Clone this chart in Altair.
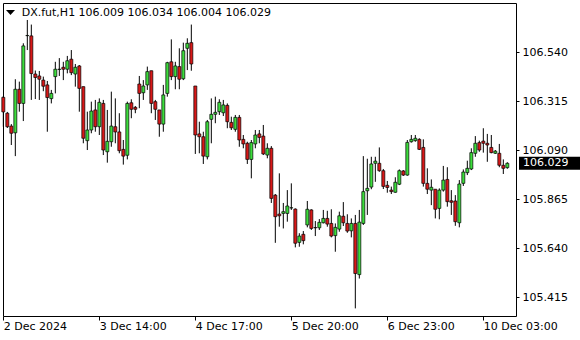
import altair as alt
import pandas as pd

symbol = "DX.fut,H1"
last_ohlc = [106.009, 106.034, 106.004, 106.029]

open_ = [
    106.332, 106.259, 106.200, 106.169, 106.369, 106.304, 106.615, 106.614, 106.439, 106.430,
    106.411, 106.389, 106.326, 106.427, 106.460, 106.470, 106.461, 106.507, 106.439, 106.476,
    106.381, 106.133, 106.182, 106.274, 106.197, 106.304, 106.082, 106.128, 106.197, 106.173,
    106.093, 106.066, 106.307, 106.286, 106.393, 106.353, 106.389, 106.454, 106.312, 106.274,
    106.209, 106.350, 106.495, 106.427, 106.473, 106.417, 106.557, 106.583, 106.384, 106.164,
    106.151, 106.059, 106.231, 106.254, 106.266, 106.261, 106.295, 106.217, 106.185, 106.240,
    106.139, 106.121, 106.047, 106.118, 106.164, 106.154, 106.067, 106.098, 105.883, 105.796,
    105.799, 105.799, 105.824, 105.819, 105.666, 105.703, 105.746, 105.815, 105.734, 105.733,
    105.756, 105.776, 105.753, 105.697, 105.727, 105.786, 105.753, 105.719, 105.753, 105.518,
    105.753, 105.903, 105.920, 106.029, 106.029, 105.995, 105.928, 105.906, 105.896, 105.933,
    105.994, 105.975, 106.128, 106.133, 106.139, 106.102, 105.937, 105.906, 105.910, 105.822,
    105.906, 105.955, 105.857, 105.856, 105.756, 105.937, 105.986, 106.003, 106.075, 106.124,
    106.131, 106.121, 106.102, 106.075, 106.075, 106.020, 106.009,
]
high = [
    106.338, 106.265, 106.209, 106.415, 106.404, 106.580, 106.687, 106.666, 106.455, 106.453,
    106.427, 106.407, 106.366, 106.495, 106.512, 106.495, 106.522, 106.549, 106.485, 106.480,
    106.381, 106.266, 106.312, 106.320, 106.327, 106.320, 106.274, 106.358, 106.327, 106.259,
    106.136, 106.312, 106.323, 106.292, 106.430, 106.411, 106.473, 106.454, 106.320, 106.274,
    106.389, 106.495, 106.598, 106.495, 106.557, 106.583, 106.603, 106.666, 106.384, 106.220,
    106.174, 106.228, 106.327, 106.335, 106.323, 106.320, 106.304, 106.243, 106.251, 106.251,
    106.159, 106.128, 106.136, 106.182, 106.182, 106.205, 106.121, 106.108, 105.888, 105.983,
    105.847, 105.906, 105.937, 105.822, 105.708, 105.718, 105.856, 105.818, 105.764, 105.773,
    105.815, 105.811, 105.818, 105.753, 105.807, 105.851, 105.795, 105.776, 105.792, 105.815,
    106.062, 106.050, 106.059, 106.059, 106.102, 106.003, 105.948, 105.922, 105.965, 106.001,
    105.998, 106.136, 106.159, 106.159, 106.144, 106.139, 106.006, 105.955, 105.910, 105.914,
    106.017, 106.011, 105.906, 105.883, 105.952, 106.001, 106.041, 106.098, 106.154, 106.133,
    106.190, 106.164, 106.159, 106.090, 106.118, 106.047, 106.034,
]
low = [
    106.197, 106.191, 106.113, 106.062, 106.266, 106.223, 106.549, 106.320, 106.324, 106.320,
    106.360, 106.174, 106.304, 106.350, 106.430, 106.411, 106.442, 106.434, 106.381, 106.266,
    106.121, 106.090, 106.167, 106.174, 106.159, 106.067, 106.032, 106.105, 106.121, 106.075,
    106.023, 106.047, 106.236, 106.259, 106.282, 106.320, 106.366, 106.259, 106.228, 106.151,
    106.174, 106.335, 106.411, 106.369, 106.369, 106.411, 106.457, 106.454, 106.072, 106.075,
    106.026, 106.047, 106.121, 106.213, 106.251, 106.246, 106.190, 106.182, 106.174, 106.105,
    106.098, 106.026, 105.960, 106.098, 106.121, 106.067, 106.052, 105.847, 105.664, 105.738,
    105.730, 105.761, 105.815, 105.643, 105.646, 105.657, 105.735, 105.723, 105.695, 105.723,
    105.753, 105.738, 105.689, 105.623, 105.715, 105.741, 105.710, 105.689, 105.363, 105.500,
    105.746, 105.792, 105.910, 105.944, 105.990, 105.911, 105.894, 105.888, 105.894, 105.929,
    105.971, 105.972, 106.124, 106.128, 106.090, 105.922, 105.888, 105.837, 105.776, 105.772,
    105.899, 105.830, 105.792, 105.742, 105.735, 105.925, 105.975, 105.998, 106.059, 106.082,
    106.078, 106.036, 106.075, 106.072, 106.011, 105.980, 106.004,
]
close = [
    106.265, 106.197, 106.167, 106.369, 106.304, 106.568, 106.616, 106.441, 106.423, 106.415,
    106.383, 106.331, 106.350, 106.461, 106.461, 106.461, 106.500, 106.445, 106.470, 106.373,
    106.144, 106.182, 106.269, 106.197, 106.309, 106.090, 106.130, 106.200, 106.173, 106.087,
    106.062, 106.304, 106.277, 106.277, 106.350, 106.384, 106.450, 106.304, 106.277, 106.209,
    106.343, 106.491, 106.427, 106.476, 106.415, 106.546, 106.580, 106.485, 106.159, 106.151,
    106.062, 106.220, 106.254, 106.263, 106.309, 106.297, 106.220, 106.192, 106.240, 106.136,
    106.118, 106.047, 106.124, 106.159, 106.148, 106.072, 106.098, 105.868, 105.784, 105.788,
    105.807, 105.833, 105.825, 105.662, 105.695, 105.674, 105.818, 105.730, 105.733, 105.758,
    105.776, 105.750, 105.695, 105.735, 105.788, 105.756, 105.718, 105.753, 105.523, 105.759,
    105.899, 105.914, 106.026, 106.039, 105.995, 105.923, 105.918, 105.899, 105.942, 105.995,
    105.975, 106.125, 106.139, 106.144, 106.093, 105.937, 105.910, 105.919, 105.818, 105.906,
    105.952, 105.853, 105.850, 105.761, 105.934, 105.989, 106.006, 106.078, 106.121, 106.090,
    106.121, 106.113, 106.078, 106.085, 106.020, 106.006, 106.029,
]

tick_bars = [0, 24, 48, 72, 96, 120]
tick_labels = ["2 Dec 2024", "3 Dec 14:00", "4 Dec 17:00", "5 Dec 20:00", "6 Dec 23:00", "10 Dec 03:00"]
price_ticks = [105.415, 105.640, 105.865, 106.090, 106.315, 106.540]

FONT = "DejaVu Sans"
BULL = "#3cdc3c"
BEAR = "#d81818"

df = pd.DataFrame({"bar": list(range(len(open_))), "open": open_, "high": high,
                   "low": low, "close": close})

label_expr = "".join(f"datum.value == {b} ? '{l}' : " for b, l in zip(tick_bars, tick_labels)) + "''"

xscale = alt.Scale(domain=[-0.08, 128.17], nice=False, zero=False, padding=0)
yscale = alt.Scale(domain=[105.328, 106.765], nice=False, zero=False, padding=0)
xaxis = alt.Axis(values=tick_bars, labelExpr=label_expr, title=None, grid=False, domain=False,
                 tickSize=4, tickColor="black", labelAlign="left", labelBaseline="top",
                 labelPadding=0, labelOverlap=False, labelFlush=False, labelBound=False,
                 labelFont=FONT, labelFontSize=11, labelColor="black")
yaxis = alt.Axis(values=price_ticks, format=".3f", orient="right", title=None, grid=False,
                 domain=False, tickSize=3, tickColor="black", labelPadding=3,
                 labelFont=FONT, labelFontSize=11, labelColor="black", labelOverlap=False,
                 labelBaseline="middle")

base = alt.Chart(df)
X = alt.X("bar:Q", scale=xscale, axis=xaxis)

wicks = base.mark_rule(color="black", strokeWidth=1).encode(
    x=X,
    y=alt.Y("low:Q", scale=yscale, axis=yaxis),
    y2="high:Q",
)
bodies = base.mark_bar(size=3, stroke="black", strokeWidth=0.7).encode(
    x=X,
    y=alt.Y("open:Q", scale=yscale, axis=yaxis),
    y2="close:Q",
    color=alt.condition("datum.close >= datum.open", alt.value(BULL), alt.value(BEAR)),
)

header_text = symbol + "  " + " ".join(f"{v:.3f}" for v in last_ohlc)
hdr_df = pd.DataFrame({"t": [header_text]})
header = alt.Chart(hdr_df).mark_text(align="left", baseline="middle", font=FONT,
                                     fontSize=11, color="black").encode(
    x=alt.value(18.7), y=alt.value(9.5), text="t:N")
tri = alt.Chart(hdr_df).mark_point(shape="M-1,-0.55L1,-0.55L0,0.55Z", filled=True,
                                   color="black", opacity=1, size=81).encode(
    x=alt.value(7.5), y=alt.value(9.5))

last_df = pd.DataFrame({"p": [last_ohlc[3]], "t": [f"{last_ohlc[3]:.3f}"]})
box = alt.Chart(last_df).mark_point(shape="M-1,-0.213L1,-0.213L1,0.213L-1,0.213Z",
                                    filled=True, color="black", opacity=1, size=3721,
                                    strokeWidth=0).encode(
    x=alt.value(546.5), y=alt.Y("p:Q", scale=yscale, axis=yaxis))
box_txt = alt.Chart(last_df).mark_text(align="left", baseline="middle", font=FONT,
                                       fontSize=11, color="white").encode(
    x=alt.value(520), y=alt.Y("p:Q", scale=yscale, axis=yaxis), text="t:N")

chart = alt.layer(wicks, bodies, header, tri, box, box_txt).properties(
    width=513, height=313,
    autosize=alt.AutoSizeParams(type="none"),
    padding={"left": 3, "top": 3, "right": 64, "bottom": 24},
    background="white",
).configure_view(stroke="black", strokeWidth=1, fill="white")

chart.save("out.html", embed_options={"renderer": "svg", "actions": False})
